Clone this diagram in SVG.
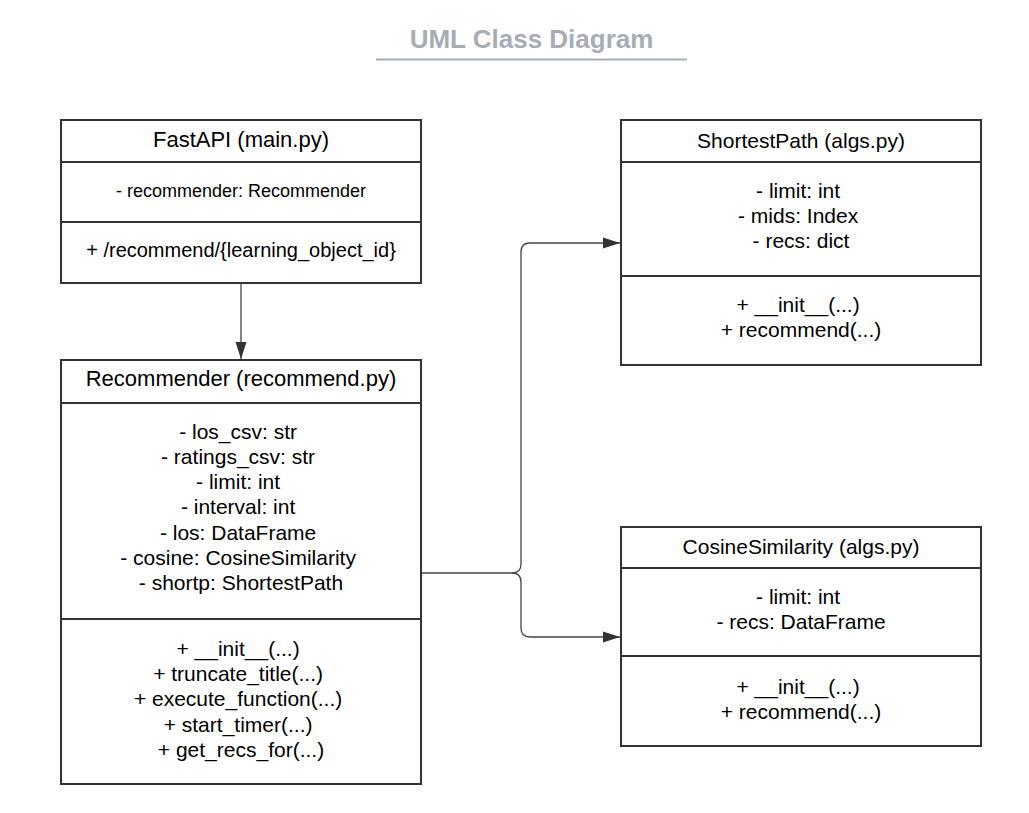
<svg xmlns="http://www.w3.org/2000/svg" width="1029" height="813" viewBox="0 0 1029 813">
  <defs>
    <marker id="arrow" markerUnits="userSpaceOnUse" markerWidth="18" markerHeight="12" refX="17" refY="6" orient="auto">
      <path d="M0,0.5 L17,6 L0,11.5 Z" fill="#333333"/>
    </marker>
    <style>
      .box { fill: #ffffff; stroke: #333333; stroke-width: 2; }
      .div { stroke: #333333; stroke-width: 2; }
      .t { font-family: "Liberation Sans", Arial, sans-serif; fill: #000000; text-anchor: middle; }
      .edge { fill: none; stroke: #444444; stroke-width: 1.3; }
    </style>
  </defs>
  <rect width="1029" height="813" fill="#ffffff"/>

  <g id="title">
    <text x="531.5" y="48" class="t" style="font-size:26px;font-weight:bold;fill:#A7ADB7">UML Class Diagram</text>
    <line x1="376" y1="59.5" x2="687" y2="59.5" stroke="#A7ADB7" stroke-width="2"/>
  </g>

  <g id="connectors">
    <path class="edge" d="M241,283 V359" marker-end="url(#arrow)"/>
    <path class="edge" d="M421,573 H512 Q521,573 521,564 V252 Q521,243 530,243 H620" marker-end="url(#arrow)"/>
    <path class="edge" d="M512,573 Q521,573 521,582 V628 Q521,637 530,637 H620" marker-end="url(#arrow)"/>
  </g>

  <g id="fastapi">
    <rect class="box" x="61" y="120" width="360" height="163"/>
    <line class="div" x1="61" y1="162" x2="421" y2="162"/>
    <line class="div" x1="61" y1="222" x2="421" y2="222"/>
    <text class="t" x="241" y="147" style="font-size:22px">FastAPI (main.py)</text>
    <text class="t" x="241" y="197" style="font-size:18px">- recommender: Recommender</text>
    <text class="t" x="241" y="257" style="font-size:20px">+ /recommend/{learning_object_id}</text>
  </g>

  <g id="recommender">
    <rect class="box" x="61" y="360" width="360" height="424"/>
    <line class="div" x1="61" y1="403" x2="421" y2="403"/>
    <line class="div" x1="61" y1="619" x2="421" y2="619"/>
    <text class="t" x="241" y="386" style="font-size:22px">Recommender (recommend.py)</text>
    <text class="t" x="241" style="font-size:21px">
      <tspan x="241" y="438.5">- los_csv: str</tspan>
      <tspan x="241" y="463.8">- ratings_csv: str</tspan>
      <tspan x="241" y="489.1">- limit: int</tspan>
      <tspan x="241" y="514.4">- interval: int</tspan>
      <tspan x="241" y="539.7">- los: DataFrame</tspan>
      <tspan x="241" y="565">- cosine: CosineSimilarity</tspan>
      <tspan x="241" y="590.3">- shortp: ShortestPath</tspan>
    </text>
    <text class="t" x="241" style="font-size:21px">
      <tspan x="241" y="655.7">+ __init__(...)</tspan>
      <tspan x="241" y="681">+ truncate_title(...)</tspan>
      <tspan x="241" y="706.3">+ execute_function(...)</tspan>
      <tspan x="241" y="731.6">+ start_timer(...)</tspan>
      <tspan x="241" y="756.9">+ get_recs_for(...)</tspan>
    </text>
  </g>

  <g id="shortestpath">
    <rect class="box" x="621" y="120" width="360" height="245"/>
    <line class="div" x1="621" y1="162" x2="981" y2="162"/>
    <line class="div" x1="621" y1="276" x2="981" y2="276"/>
    <text class="t" x="801" y="148" style="font-size:21px">ShortestPath (algs.py)</text>
    <text class="t" x="801" style="font-size:21px">
      <tspan x="801" y="197.5">- limit: int</tspan>
      <tspan x="801" y="222.8">- mids: Index</tspan>
      <tspan x="801" y="248">- recs: dict</tspan>
    </text>
    <text class="t" x="801" style="font-size:21px">
      <tspan x="801" y="311.5">+ __init__(...)</tspan>
      <tspan x="801" y="336.8">+ recommend(...)</tspan>
    </text>
  </g>

  <g id="cosinesimilarity">
    <rect class="box" x="621" y="527" width="360" height="219"/>
    <line class="div" x1="621" y1="568" x2="981" y2="568"/>
    <line class="div" x1="621" y1="656" x2="981" y2="656"/>
    <text class="t" x="801" y="554.3" style="font-size:21px">CosineSimilarity (algs.py)</text>
    <text class="t" x="801" style="font-size:21px">
      <tspan x="801" y="604">- limit: int</tspan>
      <tspan x="801" y="629.3">- recs: DataFrame</tspan>
    </text>
    <text class="t" x="801" style="font-size:21px">
      <tspan x="801" y="694">+ __init__(...)</tspan>
      <tspan x="801" y="719.3">+ recommend(...)</tspan>
    </text>
  </g>
</svg>
